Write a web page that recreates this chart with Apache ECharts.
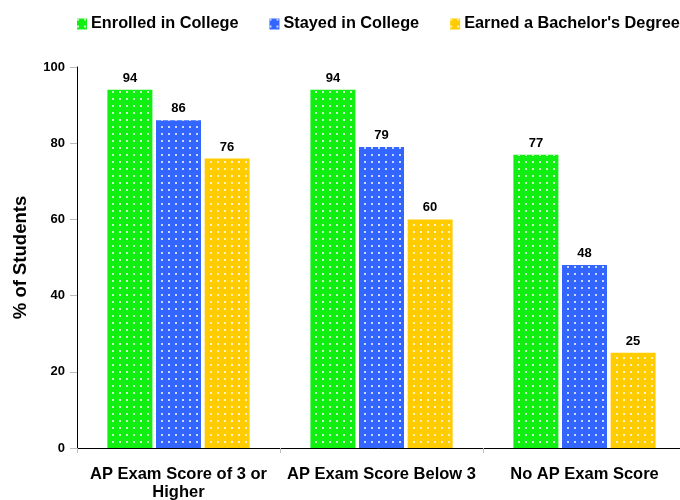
<!DOCTYPE html>
<html>
<head>
<meta charset="utf-8">
<script src="https://cdn.jsdelivr.net/npm/echarts@6/dist/echarts.min.js"></script>
<style>
  html, body { margin: 0; padding: 0; background: #fff; }
  #chart { width: 680px; height: 500px; }
</style>
</head>
<body>
<div id="chart"></div>
<script>
// data
const categories = ['AP Exam Score of 3 or\nHigher', 'AP Exam Score Below 3', 'No AP Exam Score'];
const seriesNames = ['Enrolled in College', 'Stayed in College', "Earned a Bachelor's Degree"];
const enrolled = [94, 94, 77];
const stayed = [86, 79, 48];
const earned = [76, 60, 25];
const colors = ['#11ee11', '#3366ff', '#ffcc00'];

const font = 'Liberation Sans, Arial, sans-serif';
const chart = echarts.init(document.getElementById('chart'));

// white dotted fill like the original bars
const dots = {
  symbol: 'rect',
  symbolSize: 1,
  color: 'rgba(255,255,255,0.75)',
  dashArrayX: [2, 5],
  dashArrayY: [2, 5]
};

const makeSeries = (name, data, color) => ({
  name: name,
  type: 'bar',
  data: data,
  barWidth: 45,
  barGap: '8%',
  itemStyle: { color: color, decal: dots },
  label: {
    show: true,
    position: 'top',
    distance: 5,
    color: '#000',
    fontFamily: font,
    fontWeight: 'bold',
    fontSize: 13
  }
});

const option = {
  animation: false,
  backgroundColor: '#fff',
  legend: {
    top: 16,
    left: 77,
    width: 603,
    padding: 0,
    icon: 'rect',
    itemWidth: 10,
    itemHeight: 11,
    itemGap: 31,
    textStyle: { fontFamily: font, fontWeight: 'bold', fontSize: 16.3, color: '#000', padding: [0, 0, 0, -1] },
    data: seriesNames
  },
  grid: { left: 77, top: 67, bottom: 52, width: 609, outerBoundsMode: 'none', containLabel: false },
  xAxis: {
    type: 'category',
    data: categories,
    axisLine: { lineStyle: { color: '#000', width: 1 } },
    axisTick: { show: true, length: 5, lineStyle: { color: '#bbb' } },
    axisLabel: {
      margin: 17,
      color: '#000',
      fontFamily: font,
      fontWeight: 'bold',
      fontSize: 16.5,
      lineHeight: 18,
      interval: 0
    }
  },
  yAxis: {
    type: 'value',
    min: 0,
    max: 100,
    interval: 20,
    name: '% of Students',
    nameLocation: 'middle',
    nameGap: 47,
    nameTextStyle: { color: '#000', fontFamily: font, fontWeight: 'bold', fontSize: 18.5 },
    splitLine: { show: false },
    axisLine: { show: true, lineStyle: { color: '#000', width: 1 } },
    axisTick: { show: true, length: 7, lineStyle: { color: '#bbb' } },
    axisLabel: { margin: 12, color: '#000', fontFamily: font, fontWeight: 'bold', fontSize: 13 }
  },
  series: [
    makeSeries(seriesNames[0], enrolled, colors[0]),
    makeSeries(seriesNames[1], stayed, colors[1]),
    makeSeries(seriesNames[2], earned, colors[2])
  ]
};

chart.setOption(option);
</script>
</body>
</html>
